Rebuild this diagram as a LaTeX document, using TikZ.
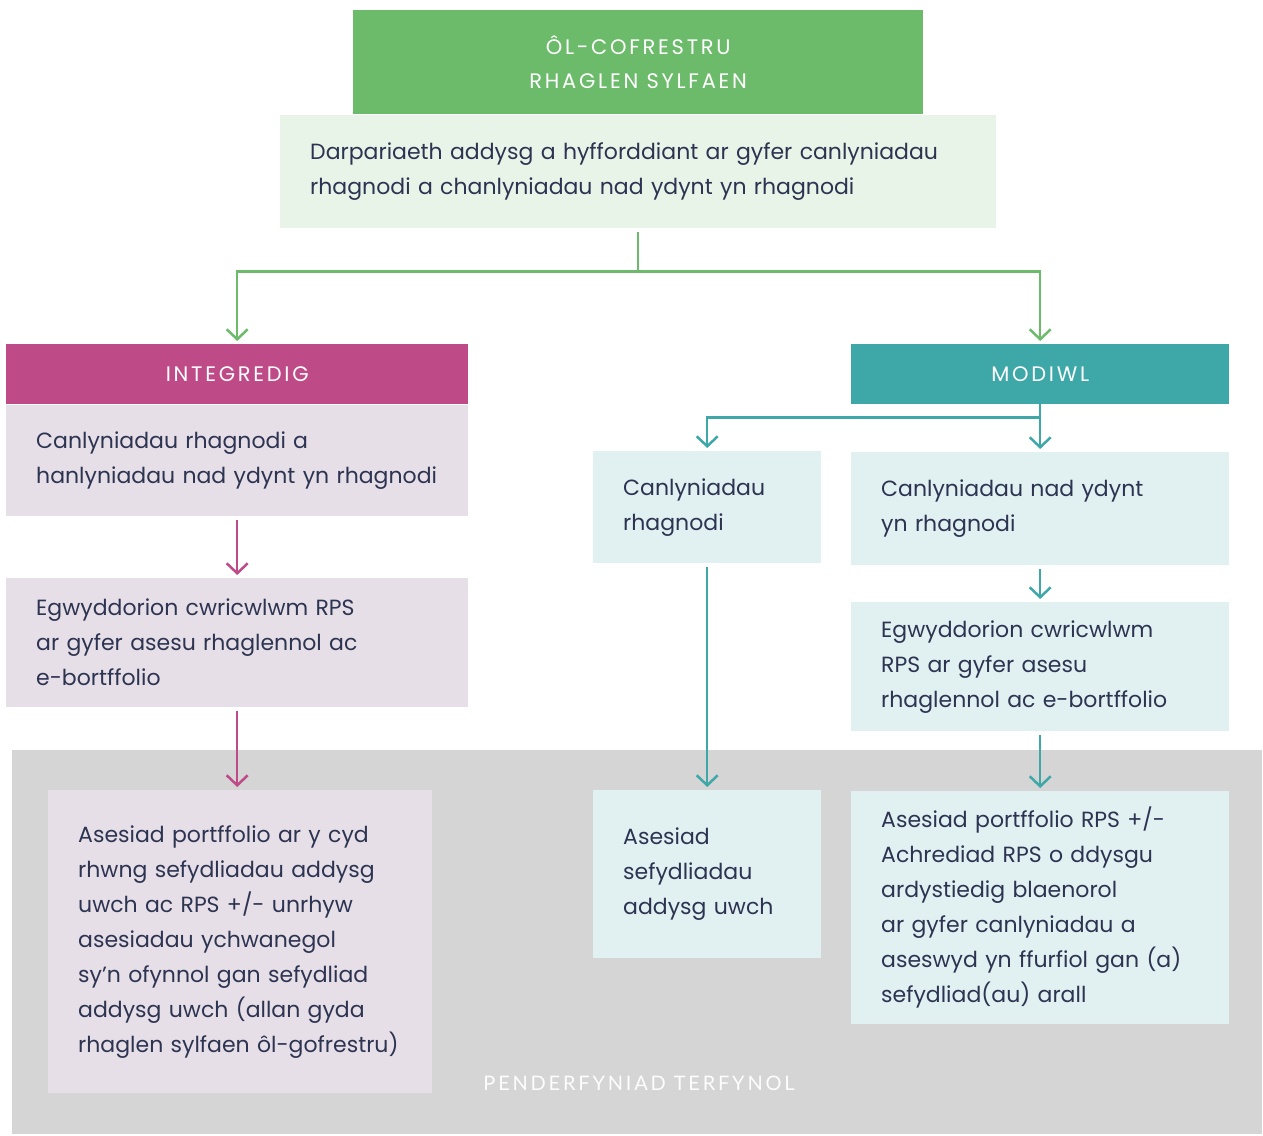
\documentclass[tikz,border=0pt]{standalone}
\usepackage{fontspec}
\setmainfont{Poppins}
\newfontfamily\hdrfont[LetterSpace=13]{Poppins}
\newfontfamily\footfont[LetterSpace=14]{Lato}
\usetikzlibrary{positioning,arrows.meta}
\definecolor{palGreen}{HTML}{6CBB6B}
\definecolor{palGreenLt}{HTML}{E8F4E8}
\definecolor{palMagenta}{HTML}{BE4A87}
\definecolor{palMagentaLt}{HTML}{E6DFE7}
\definecolor{palTeal}{HTML}{3EA8A9}
\definecolor{palTealLt}{HTML}{E1F0F1}
\definecolor{palGray}{HTML}{D5D5D5}
\definecolor{palInk}{HTML}{2D3452}
\tikzset{
  hdrbox/.style={anchor=north west, inner sep=0pt, text=white, align=center,
                 font=\hdrfont\fontsize{21}{34}\selectfont},
  txtbox/.style={anchor=north west, inner xsep=30pt, inner ysep=0pt,
                 align=left, text=palInk, font=\fontsize{22}{35}\selectfont},
  stdarrow/.style={-{Straight Barb[length=10pt,width=21pt]}, line width=2.5pt,
                   shorten >=3pt, shorten <=4pt},
}

\begin{document}
\begin{tikzpicture}[x=1pt, y=-1pt]
\useasboundingbox (0,0) rectangle (1263,1135);

%% Final decision area
\fill[palGray] (12,750) rectangle (1262,1134);
\node[font=\footfont\fontsize{20}{24}\selectfont, text=white!95!palGray]
  (final) at (639,1083) {PENDERFYNIAD TERFYNOL};

%% Top block
\node[hdrbox, fill=palGreen, minimum width=570pt, minimum height=104pt]
  (top) at (353,10) {ÔL-COFRESTRU\\RHAGLEN SYLFAEN};
\node[txtbox, fill=palGreenLt, text width=656pt, minimum height=113pt]
  (intro) at (280,115)
  {Darpariaeth addysg a hyfforddiant ar gyfer canlyniadau\\
   rhagnodi a chanlyniadau nad ydynt yn rhagnodi};

%% Integrated route
\node[hdrbox, fill=palMagenta, minimum width=462pt, minimum height=60pt]
  (integ) at (6,344) {INTEGREDIG};
\node[txtbox, fill=palMagentaLt, text width=402pt, minimum height=111pt]
  (intOut) at (6,405)
  {Canlyniadau rhagnodi a\\hanlyniadau nad ydynt yn rhagnodi};
\node[txtbox, fill=palMagentaLt, text width=402pt, minimum height=129pt]
  (intPrin) at (6,578)
  {Egwyddorion cwricwlwm RPS\\ar gyfer asesu rhaglennol ac\\e-bortffolio};
\node[txtbox, fill=palMagentaLt, text width=324pt, minimum height=303pt]
  (intAss) at (48,790)
  {Asesiad portffolio ar y cyd\\rhwng sefydliadau addysg\\uwch ac RPS +/- unrhyw\\
   asesiadau ychwanegol\\sy’n ofynnol gan sefydliad\\addysg uwch (allan gyda\\
   rhaglen sylfaen ôl-gofrestru)};

%% Modular route
\node[hdrbox, fill=palTeal, minimum width=378pt, minimum height=60pt]
  (modiwl) at (851,344) {MODIWL};
\node[txtbox, fill=palTealLt, text width=168pt, minimum height=112pt]
  (modPres) at (593,451) {Canlyniadau\\rhagnodi};
\node[txtbox, fill=palTealLt, text width=168pt, minimum height=168pt]
  (modHei) at (593,790) {Asesiad\\sefydliadau\\addysg uwch};
\node[txtbox, fill=palTealLt, text width=318pt, minimum height=113pt]
  (modNon) at (851,452) {Canlyniadau nad ydynt\\yn rhagnodi};
\node[txtbox, fill=palTealLt, text width=318pt, minimum height=129pt]
  (modPrin) at (851,602)
  {Egwyddorion cwricwlwm\\RPS ar gyfer asesu\\rhaglennol ac e-bortffolio};
\node[txtbox, fill=palTealLt, text width=318pt, minimum height=233pt]
  (modAss) at (851,791)
  {Asesiad portffolio RPS +/-\\Achrediad RPS o ddysgu\\ardystiedig blaenorol\\
   ar gyfer canlyniadau a\\aseswyd yn ffurfiol gan (a)\\sefydliad(au) arall};

%% Connectors
\draw[stdarrow, palGreen] (intro.south) -- ++(0,43) -| (integ.north);
\draw[stdarrow, palGreen] (intro.south) -- ++(0,43) -| (modiwl.north);
\draw[stdarrow, palMagenta] (intOut) -- (intPrin);
\draw[stdarrow, palMagenta] (intPrin) -- (intPrin.south |- intAss.north);
\draw[stdarrow, palTeal, shorten <=0pt] (modiwl.south) -- ++(0,13) -| (modPres.north);
\draw[stdarrow, palTeal, shorten <=0pt] (modiwl.south) -- (modNon.north);
\draw[stdarrow, palTeal] (modPres) -- (modHei);
\draw[stdarrow, palTeal] (modNon) -- (modPrin);
\draw[stdarrow, palTeal] (modPrin) -- (modAss);
\end{tikzpicture}
\end{document}
